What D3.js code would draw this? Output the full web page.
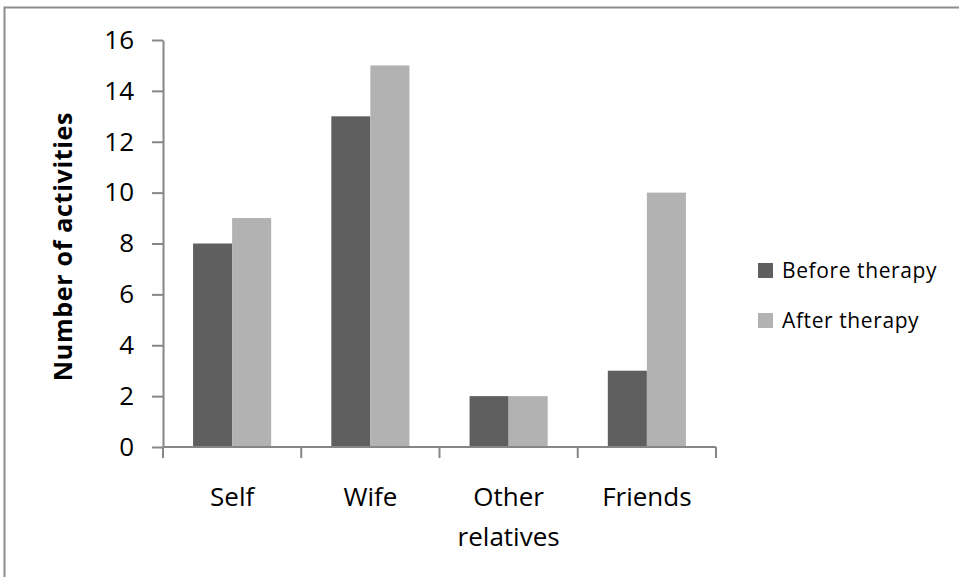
<!DOCTYPE html>
<html>
<head>
<meta charset="utf-8">
<script src="https://cdn.jsdelivr.net/npm/d3@7/dist/d3.min.js"></script>
<style>
  html, body { margin: 0; padding: 0; background: #fff; }
  svg { display: block; }
  text { font-family: "Open Sans", sans-serif; fill: #000; }
</style>
</head>
<body>
<svg id="chart" width="959" height="577"></svg>
<script>
// Activities reported per social circle, before and after therapy
const categories = [["Self"], ["Wife"], ["Other", "relatives"], ["Friends"]];
const seriesNames = ["Before therapy", "After therapy"];
const beforeValues = [8, 13, 2, 3];
const afterValues = [9, 15, 2, 10];
const yTicks = [0, 2, 4, 6, 8, 10, 12, 14, 16];
const seriesColors = ["#5f5f5f", "#b2b2b2"];

const svg = d3.select("#chart");

// frame around the chart area
svg.append("rect")
  .attr("x", 4.5).attr("y", 7.5)
  .attr("width", 1000).attr("height", 700)
  .attr("fill", "none")
  .attr("stroke", "#8c8c8c")
  .attr("stroke-width", 2);

const plot = { left: 163, right: 716, top: 40, bottom: 447 };

const catKeys = categories.map((c, i) => i);
const x0 = d3.scaleBand()
  .domain(catKeys)
  .range([plot.left, plot.right])
  .paddingInner(0.435)
  .paddingOuter(0.2175);
const x1 = d3.scaleBand()
  .domain([0, 1])
  .range([0, x0.bandwidth()]);
const y = d3.scaleLinear().domain([0, 16]).range([plot.bottom, plot.top]);

const data = catKeys.map(i => [beforeValues[i], afterValues[i]]);

// bars
const groups = svg.append("g").selectAll("g")
  .data(data)
  .join("g")
  .attr("transform", (d, i) => `translate(${x0(i)},0)`);
groups.selectAll("rect")
  .data(d => d.map((v, s) => ({ v, s })))
  .join("rect")
  .attr("x", d => x1(d.s))
  .attr("width", x1.bandwidth())
  .attr("y", d => y(d.v))
  .attr("height", d => y(0) - y(d.v))
  .attr("fill", d => seriesColors[d.s]);

// y axis
const yAxis = svg.append("g")
  .attr("transform", `translate(${plot.left},0)`)
  .call(d3.axisLeft(y).tickValues(yTicks).tickSize(11).tickSizeOuter(0).tickPadding(18));
yAxis.select(".domain").attr("stroke", "#868686").attr("stroke-width", 2);
yAxis.selectAll(".tick line").attr("stroke", "#868686").attr("stroke-width", 2);
yAxis.selectAll(".tick text")
  .attr("font-size", 26)
  .attr("font-family", "Open Sans, sans-serif")
  .attr("fill", "#000");

// x axis baseline with ticks at category boundaries
const step = x0.step();
const boundaries = catKeys.map(i => x0(i) - x0.paddingOuter() * step).concat([plot.right]);
const xAxis = svg.append("g");
xAxis.append("line")
  .attr("x1", plot.left).attr("x2", plot.right)
  .attr("y1", y(0)).attr("y2", y(0))
  .attr("stroke", "#868686").attr("stroke-width", 2);
xAxis.selectAll("line.bt")
  .data(boundaries)
  .join("line")
  .attr("class", "bt")
  .attr("x1", d => d).attr("x2", d => d)
  .attr("y1", y(0)).attr("y2", y(0) + 11)
  .attr("stroke", "#868686").attr("stroke-width", 2);

// category labels
const labels = svg.append("g").selectAll("text")
  .data(categories)
  .join("text")
  .attr("x", (d, i) => x0(i) + x0.bandwidth() / 2)
  .attr("y", 506)
  .attr("text-anchor", "middle")
  .attr("font-size", 26);
labels.selectAll("tspan")
  .data(d => d)
  .join("tspan")
  .attr("x", function () { return d3.select(this.parentNode).attr("x"); })
  .attr("dy", (d, i) => i === 0 ? 0 : 40)
  .text(d => d);

// y axis title
svg.append("text")
  .attr("transform", `translate(72,${(110 + 383) / 2}) rotate(-90)`)
  .attr("text-anchor", "middle")
  .attr("font-size", 25)
  .attr("letter-spacing", 0.7)
  .attr("font-weight", "bold")
  .text("Number of activities");

// legend
const legend = svg.append("g").selectAll("g")
  .data(seriesNames)
  .join("g")
  .attr("transform", (d, i) => `translate(758,${263 + i * 50})`);
legend.append("rect")
  .attr("width", 15).attr("height", 15)
  .attr("fill", (d, i) => seriesColors[i]);
legend.append("text")
  .attr("x", 24).attr("y", 15)
  .attr("font-size", 21)
  .attr("letter-spacing", 0.6)
  .text(d => d);
</script>
</body>
</html>
